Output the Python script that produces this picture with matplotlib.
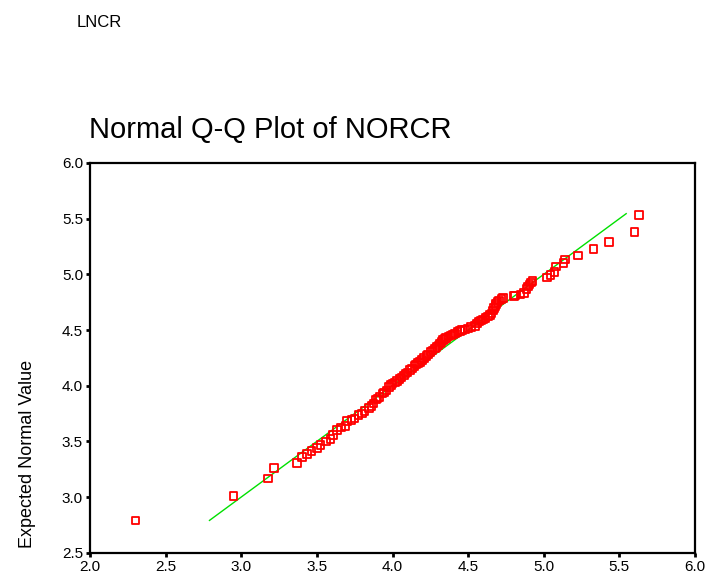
import matplotlib
matplotlib.use("Agg")
import matplotlib.pyplot as plt

plt.rcParams['font.family'] = ['Liberation Sans', 'DejaVu Sans']

observed = [2.30, 2.95, 3.175, 3.215, 3.37, 3.40, 3.435, 3.465, 3.50, 3.525, 3.56, 3.59,
            3.605, 3.635, 3.66, 3.69, 3.70, 3.73, 3.75, 3.775, 3.80, 3.815, 3.845, 3.86,
            3.875, 3.89, 3.90, 3.915, 3.935, 3.945, 3.96, 3.975, 3.99, 4.00, 4.015, 4.03,
            4.045, 4.06, 4.075, 4.085, 4.10, 4.115, 4.13, 4.145, 4.155, 4.17, 4.18, 4.195,
            4.21, 4.225, 4.235, 4.25, 4.265, 4.28, 4.29, 4.305, 4.315, 4.325, 4.335, 4.345,
            4.355, 4.37, 4.385, 4.40, 4.415, 4.43, 4.445, 4.46, 4.48, 4.50, 4.52, 4.545,
            4.56, 4.57, 4.585, 4.60, 4.615, 4.63, 4.645, 4.655, 4.665, 4.67, 4.68, 4.685,
            4.695, 4.705, 4.72, 4.73, 4.805, 4.81, 4.845, 4.87, 4.885, 4.895, 4.905, 4.915,
            4.925, 5.02, 5.045, 5.07, 5.08, 5.13, 5.14, 5.225, 5.33, 5.43, 5.60, 5.63]
expected = [2.79, 3.01, 3.165, 3.26, 3.305, 3.36, 3.385, 3.415, 3.44, 3.465, 3.50, 3.52,
            3.555, 3.60, 3.625, 3.64, 3.685, 3.69, 3.705, 3.735, 3.75, 3.77, 3.80, 3.82,
            3.84, 3.875, 3.885, 3.90, 3.93, 3.94, 3.955, 3.99, 4.005, 4.02, 4.03, 4.04,
            4.06, 4.075, 4.09, 4.11, 4.12, 4.14, 4.155, 4.175, 4.19, 4.205, 4.215, 4.23,
            4.25, 4.265, 4.28, 4.30, 4.315, 4.335, 4.345, 4.36, 4.38, 4.395, 4.41, 4.42,
            4.43, 4.44, 4.45, 4.46, 4.47, 4.48, 4.49, 4.50, 4.505, 4.515, 4.525, 4.535,
            4.56, 4.575, 4.585, 4.595, 4.61, 4.62, 4.635, 4.65, 4.675, 4.695, 4.715, 4.735,
            4.75, 4.765, 4.78, 4.79, 4.805, 4.81, 4.82, 4.835, 4.87, 4.89, 4.91, 4.925,
            4.94, 4.97, 4.995, 5.02, 5.07, 5.10, 5.135, 5.17, 5.225, 5.29, 5.38, 5.535]

# Reference line (y = x) over the range of expected values
line_x = [2.79, 5.545]
line_y = [2.79, 5.545]

x_ticks = [2.0, 2.5, 3.0, 3.5, 4.0, 4.5, 5.0, 5.5, 6.0]
y_ticks = [2.5, 3.0, 3.5, 4.0, 4.5, 5.0, 5.5, 6.0]

W, H = 708, 586
fig = plt.figure(figsize=(W / 100, H / 100), dpi=100)
ax = fig.add_axes([90 / W, 1 - 552.7 / H, (695 - 90) / W, (552.7 - 163) / H])

ax.plot(line_x, line_y, color='#00e000', lw=1.0, zorder=2)
ax.scatter(observed, expected, marker='s', s=30, facecolors='none',
           edgecolors='#ff0000', linewidths=1.3, zorder=3)

ax.set_xlim(2.0, 6.0)
ax.set_ylim(2.5, 6.0)
ax.set_xticks(x_ticks)
ax.set_xticklabels([f"{t:.1f}" for t in x_ticks])
ax.set_yticks(y_ticks)
ax.set_yticklabels([f"{t:.1f}" for t in y_ticks])
ax.tick_params(axis='both', direction='out', length=3, width=2, labelsize=11,
               colors='black', pad=2)
for s in ax.spines.values():
    s.set_linewidth(1.6)
    s.set_color('black')

fig.text(77 / W, 1 - 27 / H, "LNCR", fontsize=12, va='baseline', ha='left')
fig.text(89 / W, 1 - 138 / H, "Normal Q-Q Plot of NORCR", fontsize=21,
         va='baseline', ha='left')
fig.text(28 / W, 1 - 454 / H, "Expected Normal Value", fontsize=13,
         rotation=90, va='center', ha='center')

fig.savefig("out.png", dpi=100)
